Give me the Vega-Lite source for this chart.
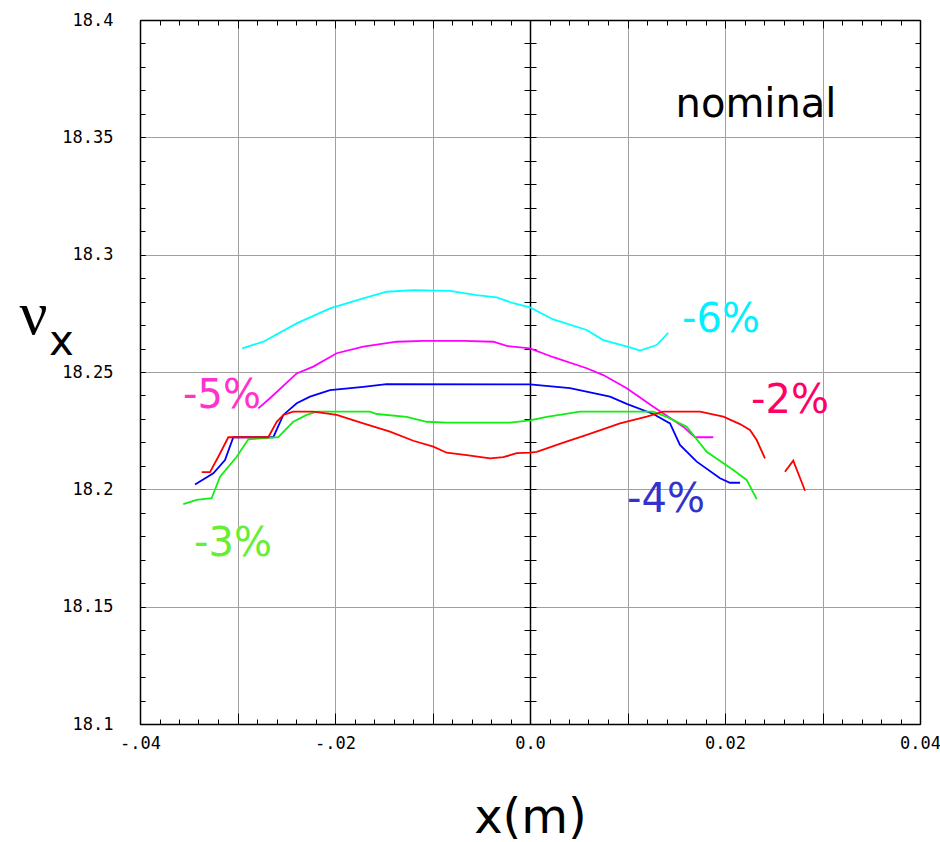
{
  "$schema": "https://vega.github.io/schema/vega-lite/v6.json",
  "width": 780,
  "height": 704,
  "autosize": {"type": "none"},
  "padding": {"left": 140, "top": 20, "right": 20, "bottom": 118},
  "background": "white",
  "config": {
    "view": {"stroke": null},
    "axis": {
      "tickColor": "black",
      "tickWidth": 1,
      "domainColor": "black",
      "domainWidth": 1.5,
      "labelFont": "DejaVu Sans Mono",
      "labelFontSize": 17,
      "labelColor": "black",
      "gridColor": "#a0a0a0",
      "gridWidth": 1,
      "labelOverlap": false,
      "labelFlush": false
    }
  },
  "resolve": {
    "axis": {"x": "independent", "y": "independent"},
    "scale": {"color": "independent"}
  },
  "layer": [
    {
      "mark": {"type": "rect", "fill": "white"},
      "encoding": {
        "x": {"datum": 0.01282, "type": "quantitative", "scale": {"domain": [-0.04, 0.04], "nice": false, "zero": false}, "axis": null},
        "x2": {"datum": 0.03364},
        "y": {"datum": 18.3821, "type": "quantitative", "scale": {"domain": [18.1, 18.4], "nice": false, "zero": false},
          "axis": {"orient": "right", "offset": -390, "values": [18.1,18.11,18.12,18.13,18.14,18.15,18.16,18.17,18.18,18.19,18.2,18.21,18.22,18.23,18.24,18.25,18.26,18.27,18.28,18.29,18.3,18.31,18.32,18.33,18.34,18.35,18.36,18.37,18.38,18.39,18.4], "tickSize": 6, "labels": false, "grid": false, "domain": false, "title": null}},
        "y2": {"datum": 18.3495}
      }
    },
    {
      "data": {"values": [
        {"s":"-6%","seg":"-6%","x":-0.02951,"y":18.2601},{"s":"-6%","seg":"-6%","x":-0.02735,"y":18.2629},{"s":"-6%","seg":"-6%","x":-0.02393,"y":18.2707},{"s":"-6%","seg":"-6%","x":-0.02051,"y":18.2771},{"s":"-6%","seg":"-6%","x":-0.0171,"y":18.2814},{"s":"-6%","seg":"-6%","x":-0.0147,"y":18.2842},{"s":"-6%","seg":"-6%","x":-0.01197,"y":18.2849},{"s":"-6%","seg":"-6%","x":-0.00821,"y":18.2846},{"s":"-6%","seg":"-6%","x":-0.00547,"y":18.2828},{"s":"-6%","seg":"-6%","x":-0.00342,"y":18.2818},{"s":"-6%","seg":"-6%","x":-0.00171,"y":18.2793},{"s":"-6%","seg":"-6%","x":0,"y":18.2775},{"s":"-6%","seg":"-6%","x":0.00239,"y":18.2724},{"s":"-6%","seg":"-6%","x":0.00582,"y":18.2679},{"s":"-6%","seg":"-6%","x":0.00752,"y":18.2636},{"s":"-6%","seg":"-6%","x":0.01026,"y":18.2605},{"s":"-6%","seg":"-6%","x":0.01128,"y":18.2591},{"s":"-6%","seg":"-6%","x":0.013,"y":18.2615},{"s":"-6%","seg":"-6%","x":0.01418,"y":18.2667},
        {"s":"-5%","seg":"-5%","x":-0.02787,"y":18.2345},{"s":"-5%","seg":"-5%","x":-0.02667,"y":18.2388},{"s":"-5%","seg":"-5%","x":-0.02393,"y":18.2494},{"s":"-5%","seg":"-5%","x":-0.02223,"y":18.2523},{"s":"-5%","seg":"-5%","x":-0.01983,"y":18.258},{"s":"-5%","seg":"-5%","x":-0.0171,"y":18.2608},{"s":"-5%","seg":"-5%","x":-0.01367,"y":18.2629},{"s":"-5%","seg":"-5%","x":-0.01094,"y":18.2633},{"s":"-5%","seg":"-5%","x":-0.00684,"y":18.2633},{"s":"-5%","seg":"-5%","x":-0.00376,"y":18.2629},{"s":"-5%","seg":"-5%","x":-0.00239,"y":18.2611},{"s":"-5%","seg":"-5%","x":0,"y":18.2601},{"s":"-5%","seg":"-5%","x":0.00239,"y":18.2563},{"s":"-5%","seg":"-5%","x":0.00582,"y":18.2516},{"s":"-5%","seg":"-5%","x":0.00752,"y":18.2487},{"s":"-5%","seg":"-5%","x":0.00992,"y":18.2431},{"s":"-5%","seg":"-5%","x":0.01265,"y":18.2352},{"s":"-5%","seg":"-5%","x":0.01572,"y":18.2267},{"s":"-5%","seg":"-5%","x":0.01692,"y":18.2222},{"s":"-5%","seg":"-5%","x":0.0188,"y":18.2222},
        {"s":"-4%","seg":"-4%","x":-0.03436,"y":18.2021},{"s":"-4%","seg":"-4%","x":-0.03248,"y":18.2068},{"s":"-4%","seg":"-4%","x":-0.03128,"y":18.2125},{"s":"-4%","seg":"-4%","x":-0.03043,"y":18.2222},{"s":"-4%","seg":"-4%","x":-0.02633,"y":18.2222},{"s":"-4%","seg":"-4%","x":-0.0253,"y":18.2317},{"s":"-4%","seg":"-4%","x":-0.02393,"y":18.2367},{"s":"-4%","seg":"-4%","x":-0.02256,"y":18.2395},{"s":"-4%","seg":"-4%","x":-0.02051,"y":18.2423},{"s":"-4%","seg":"-4%","x":-0.0171,"y":18.2437},{"s":"-4%","seg":"-4%","x":-0.0147,"y":18.2448},{"s":"-4%","seg":"-4%","x":0,"y":18.2447},{"s":"-4%","seg":"-4%","x":0.0041,"y":18.2431},{"s":"-4%","seg":"-4%","x":0.00821,"y":18.2395},{"s":"-4%","seg":"-4%","x":0.00992,"y":18.2364},{"s":"-4%","seg":"-4%","x":0.01265,"y":18.2321},{"s":"-4%","seg":"-4%","x":0.01436,"y":18.2281},{"s":"-4%","seg":"-4%","x":0.01538,"y":18.2189},{"s":"-4%","seg":"-4%","x":0.0171,"y":18.2118},{"s":"-4%","seg":"-4%","x":0.01949,"y":18.2047},{"s":"-4%","seg":"-4%","x":0.02051,"y":18.2028},{"s":"-4%","seg":"-4%","x":0.02154,"y":18.2028},
        {"s":"-3%","seg":"-3%","x":-0.03556,"y":18.1937},{"s":"-3%","seg":"-3%","x":-0.03418,"y":18.1955},{"s":"-3%","seg":"-3%","x":-0.03265,"y":18.1962},{"s":"-3%","seg":"-3%","x":-0.03179,"y":18.2054},{"s":"-3%","seg":"-3%","x":-0.03008,"y":18.2139},{"s":"-3%","seg":"-3%","x":-0.02889,"y":18.2213},{"s":"-3%","seg":"-3%","x":-0.02582,"y":18.2222},{"s":"-3%","seg":"-3%","x":-0.02428,"y":18.2288},{"s":"-3%","seg":"-3%","x":-0.0229,"y":18.2317},{"s":"-3%","seg":"-3%","x":-0.02188,"y":18.2331},{"s":"-3%","seg":"-3%","x":-0.01641,"y":18.2331},{"s":"-3%","seg":"-3%","x":-0.01572,"y":18.2321},{"s":"-3%","seg":"-3%","x":-0.01265,"y":18.2309},{"s":"-3%","seg":"-3%","x":-0.0106,"y":18.2288},{"s":"-3%","seg":"-3%","x":-0.00854,"y":18.2284},{"s":"-3%","seg":"-3%","x":-0.00205,"y":18.2284},{"s":"-3%","seg":"-3%","x":0,"y":18.2294},{"s":"-3%","seg":"-3%","x":0.00171,"y":18.2309},{"s":"-3%","seg":"-3%","x":0.00513,"y":18.2331},{"s":"-3%","seg":"-3%","x":0.01265,"y":18.2331},{"s":"-3%","seg":"-3%","x":0.01402,"y":18.2309},{"s":"-3%","seg":"-3%","x":0.01607,"y":18.2267},{"s":"-3%","seg":"-3%","x":0.01812,"y":18.216},{"s":"-3%","seg":"-3%","x":0.02085,"y":18.2082},{"s":"-3%","seg":"-3%","x":0.02222,"y":18.204},{"s":"-3%","seg":"-3%","x":0.02325,"y":18.1958},
        {"s":"-2%","seg":"-2%","x":-0.03367,"y":18.2073},{"s":"-2%","seg":"-2%","x":-0.03282,"y":18.2073},{"s":"-2%","seg":"-2%","x":-0.03197,"y":18.2139},{"s":"-2%","seg":"-2%","x":-0.03094,"y":18.2222},{"s":"-2%","seg":"-2%","x":-0.02684,"y":18.2222},{"s":"-2%","seg":"-2%","x":-0.02598,"y":18.2288},{"s":"-2%","seg":"-2%","x":-0.0253,"y":18.2317},{"s":"-2%","seg":"-2%","x":-0.02428,"y":18.2331},{"s":"-2%","seg":"-2%","x":-0.02223,"y":18.2331},{"s":"-2%","seg":"-2%","x":-0.01983,"y":18.2317},{"s":"-2%","seg":"-2%","x":-0.0171,"y":18.2281},{"s":"-2%","seg":"-2%","x":-0.01436,"y":18.2246},{"s":"-2%","seg":"-2%","x":-0.01197,"y":18.2207},{"s":"-2%","seg":"-2%","x":-0.00992,"y":18.2182},{"s":"-2%","seg":"-2%","x":-0.00854,"y":18.2156},{"s":"-2%","seg":"-2%","x":-0.00649,"y":18.2146},{"s":"-2%","seg":"-2%","x":-0.0041,"y":18.2132},{"s":"-2%","seg":"-2%","x":-0.00274,"y":18.2137},{"s":"-2%","seg":"-2%","x":-0.00136,"y":18.2154},{"s":"-2%","seg":"-2%","x":0,"y":18.2156},{"s":"-2%","seg":"-2%","x":0.00069,"y":18.216},{"s":"-2%","seg":"-2%","x":0.00342,"y":18.2199},{"s":"-2%","seg":"-2%","x":0.00582,"y":18.2232},{"s":"-2%","seg":"-2%","x":0.00923,"y":18.2281},{"s":"-2%","seg":"-2%","x":0.01197,"y":18.231},{"s":"-2%","seg":"-2%","x":0.01367,"y":18.2331},{"s":"-2%","seg":"-2%","x":0.01744,"y":18.2331},{"s":"-2%","seg":"-2%","x":0.01983,"y":18.231},{"s":"-2%","seg":"-2%","x":0.02154,"y":18.2278},{"s":"-2%","seg":"-2%","x":0.02256,"y":18.2253},{"s":"-2%","seg":"-2%","x":0.02325,"y":18.221},{"s":"-2%","seg":"-2%","x":0.0241,"y":18.2132},
        {"s":"-2%","seg":"-2%b","x":0.02615,"y":18.2075},{"s":"-2%","seg":"-2%b","x":0.027,"y":18.2122},{"s":"-2%","seg":"-2%b","x":0.02821,"y":18.1994}
      ]},
      "mark": {"type": "line", "strokeWidth": 1.8},
      "encoding": {
        "x": {"field": "x", "type": "quantitative", "scale": {"domain": [-0.04, 0.04], "nice": false, "zero": false},
          "axis": {"orient": "bottom", "values": [-0.04,-0.03,-0.02,-0.01,0,0.01,0.02,0.03,0.04], "tickSize": -11, "grid": true, "domain": true,
            "labelExpr": "abs(datum.value+0.04)<1e-6 ? '-.04' : abs(datum.value+0.02)<1e-6 ? '-.02' : abs(datum.value)<1e-6 ? '0.0' : abs(datum.value-0.02)<1e-6 ? '0.02' : abs(datum.value-0.04)<1e-6 ? '0.04' : ''",
            "labelPadding": 22, "title": "x(m)", "titleFont": "DejaVu Sans", "titleFontSize": 48, "titleFontWeight": "normal", "titleColor": "black",
            "titleX": 390, "titleY": 108, "titleBaseline": "alphabetic", "titleAlign": "center"}},
        "y": {"field": "y", "type": "quantitative", "scale": {"domain": [18.1, 18.4], "nice": false, "zero": false},
          "axis": {"orient": "left", "values": [18.1,18.15,18.2,18.25,18.3,18.35,18.4], "tickSize": -5, "grid": true, "domain": true,
            "labelExpr": "format(datum.value, '.2~f')", "labelPadding": 32,
            "title": "ν", "titleFont": "Liberation Serif", "titleFontSize": 62, "titleFontWeight": "normal", "titleColor": "black", "titleAngle": 0,
            "titleX": -107, "titleY": 313, "titleAlign": "center", "titleBaseline": "alphabetic"}},
        "color": {"field": "s", "type": "nominal", "legend": null,
          "scale": {"domain": ["-2%","-3%","-4%","-5%","-6%"], "range": ["#ff0000","#11ee11","#0000ff","#ff00ff","#00ffff"]}},
        "detail": {"field": "seg", "type": "nominal"}
      }
    },
    {
      "data": {"values": [
        {"label":"-6%","x":0.01959,"y":18.2671},
        {"label":"-5%","x":-0.03159,"y":18.2347},
        {"label":"-4%","x":0.01395,"y":18.1903},
        {"label":"-3%","x":-0.03046,"y":18.1716},
        {"label":"-2%","x":0.02667,"y":18.2325}
      ]},
      "mark": {"type": "text", "font": "DejaVu Sans", "fontSize": 40, "align": "center", "baseline": "alphabetic"},
      "encoding": {
        "x": {"field": "x", "type": "quantitative", "scale": {"domain": [-0.04, 0.04], "nice": false, "zero": false},
          "axis": {"orient": "bottom", "values": [-0.04,-0.038,-0.036,-0.034,-0.032,-0.03,-0.028,-0.026,-0.024,-0.022,-0.02,-0.018,-0.016,-0.014,-0.012,-0.01,-0.008,-0.006,-0.004,-0.002,0,0.002,0.004,0.006,0.008,0.01,0.012,0.014,0.016,0.018,0.02,0.022,0.024,0.026,0.028,0.03,0.032,0.034,0.036,0.038,0.04], "tickSize": -5, "labels": false, "grid": false, "domain": false, "title": null}},
        "y": {"field": "y", "type": "quantitative", "scale": {"domain": [18.1, 18.4], "nice": false, "zero": false},
          "axis": {"orient": "left", "values": [18.1,18.11,18.12,18.13,18.14,18.15,18.16,18.17,18.18,18.19,18.2,18.21,18.22,18.23,18.24,18.25,18.26,18.27,18.28,18.29,18.3,18.31,18.32,18.33,18.34,18.35,18.36,18.37,18.38,18.39,18.4], "tickSize": -5, "labels": false, "grid": false, "domain": false, "title": null}},
        "text": {"field": "label"},
        "color": {"field": "label", "type": "nominal", "legend": null,
          "scale": {"domain": ["-2%","-3%","-4%","-5%","-6%"], "range": ["#ff0066","#66ee33","#3333cc","#ff33cc","#00f0ff"]}}
      }
    },
    {
      "data": {"values": [{"label":"nominal","x":0.02318,"y":18.3587}]},
      "mark": {"type": "text", "font": "DejaVu Sans", "fontSize": 40, "align": "center", "baseline": "alphabetic", "color": "black"},
      "encoding": {
        "x": {"field": "x", "type": "quantitative", "scale": {"domain": [-0.04, 0.04], "nice": false, "zero": false},
          "axis": {"orient": "top", "values": [-0.04,-0.038,-0.036,-0.034,-0.032,-0.03,-0.028,-0.026,-0.024,-0.022,-0.02,-0.018,-0.016,-0.014,-0.012,-0.01,-0.008,-0.006,-0.004,-0.002,0,0.002,0.004,0.006,0.008,0.01,0.012,0.014,0.016,0.018,0.02,0.022,0.024,0.026,0.028,0.03,0.032,0.034,0.036,0.038,0.04], "tickSize": -5, "labels": false, "grid": false, "domain": true, "title": null}},
        "y": {"field": "y", "type": "quantitative", "scale": {"domain": [18.1, 18.4], "nice": false, "zero": false},
          "axis": {"orient": "right", "values": [18.1,18.11,18.12,18.13,18.14,18.15,18.16,18.17,18.18,18.19,18.2,18.21,18.22,18.23,18.24,18.25,18.26,18.27,18.28,18.29,18.3,18.31,18.32,18.33,18.34,18.35,18.36,18.37,18.38,18.39,18.4], "tickSize": -5, "labels": false, "grid": false, "domain": true, "title": null}},
        "text": {"field": "label"}
      }
    },
    {
      "data": {"values": [{"label":"x","x":-0.04805,"y":18.2572}]},
      "mark": {"type": "text", "font": "DejaVu Sans", "fontSize": 42, "align": "center", "baseline": "alphabetic", "color": "black"},
      "encoding": {
        "x": {"field": "x", "type": "quantitative", "scale": {"domain": [-0.04, 0.04], "nice": false, "zero": false},
          "axis": {"orient": "top", "values": [-0.04,-0.03,-0.02,-0.01,0,0.01,0.02,0.03,0.04], "tickSize": -8, "labels": false, "grid": false, "domain": false, "title": null}},
        "y": {"field": "y", "type": "quantitative", "scale": {"domain": [18.1, 18.4], "nice": false, "zero": false},
          "axis": {"orient": "left", "offset": -390, "values": [18.1,18.11,18.12,18.13,18.14,18.15,18.16,18.17,18.18,18.19,18.2,18.21,18.22,18.23,18.24,18.25,18.26,18.27,18.28,18.29,18.3,18.31,18.32,18.33,18.34,18.35,18.36,18.37,18.38,18.39,18.4], "tickSize": 6, "labels": false, "grid": false, "domain": true, "title": null}},
        "text": {"field": "label"}
      }
    }
  ]
}
